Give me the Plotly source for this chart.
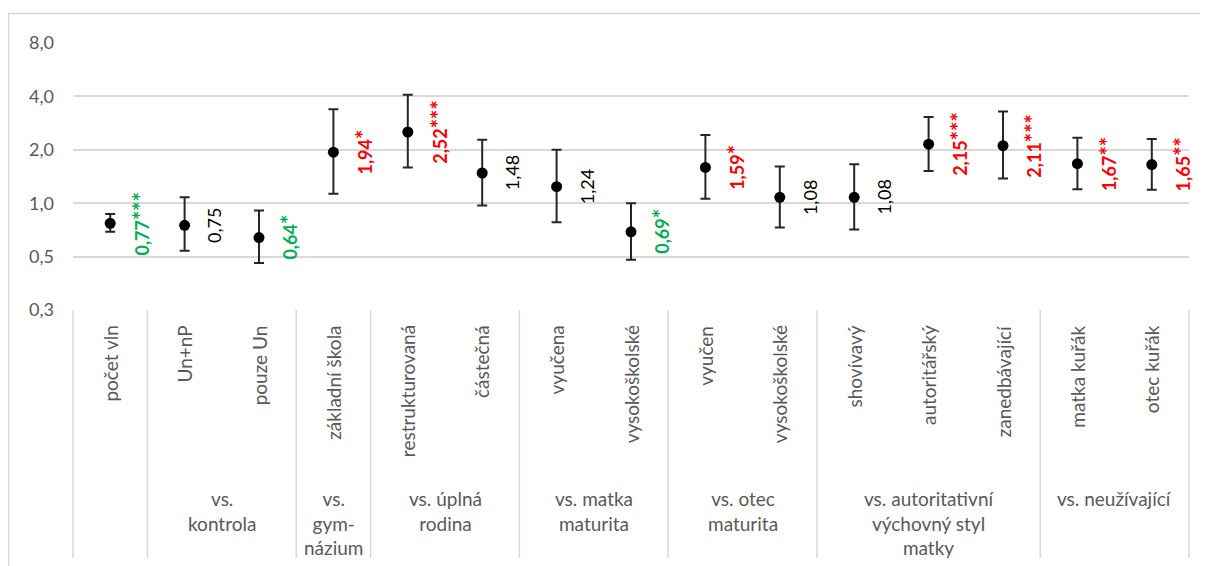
import numpy as np
import plotly.graph_objects as go

# ---- data ----
categories = ["počet vln", "Un+nP", "pouze Un", "základní škola", "restrukturovaná",
              "částečná", "vyučena", "vysokoškolské", "vyučen", "vysokoškolské",
              "shovívavý", "autoritářský", "zanedbávající", "matka kuřák", "otec kuřák"]
groups = ["", "vs.<br>kontrola", "vs.<br>gym-<br>názium", "vs. úplná<br>rodina",
          "vs. matka<br>maturita", "vs. otec<br>maturita",
          "vs. autoritativní<br>výchovný styl<br>matky", "vs. neužívající"]
group_sizes = [1, 2, 1, 2, 2, 2, 3, 2]
odds_ratio = [0.77, 0.75, 0.64, 1.94, 2.52, 1.48, 1.24, 0.69, 1.59, 1.08, 1.08, 2.15, 2.11, 1.67, 1.65]
ci_lower = [0.69, 0.54, 0.46, 1.13, 1.59, 0.97, 0.78, 0.48, 1.06, 0.73, 0.71, 1.52, 1.38, 1.20, 1.19]
ci_upper = [0.87, 1.08, 0.91, 3.38, 4.09, 2.28, 2.00, 1.00, 2.42, 1.61, 1.66, 3.06, 3.29, 2.34, 2.30]
stars = ["***", "", "*", "*", "***", "", "", "*", "*", "", "", "***", "***", "**", "**"]
y_tickvals = [0.25, 0.5, 1, 2, 4, 8]
y_ticktext = ["0,3", "0,5", "1,0", "2,0", "4,0", "8,0"]

FONT = "Lato, 'Open Sans', sans-serif"
GREY = "#595959"
LINE = "#d9d9d9"

x = list(range(len(categories)))
fig = go.Figure()
fig.add_trace(go.Scatter(
    x=x, y=odds_ratio, mode="markers",
    marker=dict(color="#000000", size=11),
    error_y=dict(type="data", symmetric=False,
                 array=[u - v for u, v in zip(ci_upper, odds_ratio)],
                 arrayminus=[v - l for v, l in zip(odds_ratio, ci_lower)],
                 color="#262626", thickness=2, width=5),
    showlegend=False, hoverinfo="skip"))

# value labels
for i, (v, s) in enumerate(zip(odds_ratio, stars)):
    num = f"{v:.2f}".replace(".", ",")
    if s:
        color = "#00B050" if v < 1 else "#FF0000"
        txt = f"<b>{num}<span style='font-size:22px'>{s}</span></b>"
    else:
        color = "#000000"
        txt = num
    fig.add_annotation(x=i, y=np.log10(v), xref="x", yref="y", text=txt,
                       textangle=-90, showarrow=False, xshift=30,
                       xanchor="center", yanchor="middle",
                       font=dict(family=FONT, size=18, color=color))

# category labels
for i, c in enumerate(categories):
    fig.add_annotation(x=i, y=-0.05, xref="x", yref="paper", text=c,
                       textangle=-90, showarrow=False, xanchor="center", yanchor="top",
                       font=dict(family=FONT, size=19, color=GREY))

# group labels and dividers
n = len(categories)
start = 0
bounds = [0]
for g, sz in zip(groups, group_sizes):
    center = start + (sz - 1) / 2
    if g:
        fig.add_annotation(x=center, y=-0.655, xref="x", yref="paper", text=g,
                           showarrow=False, xanchor="center", yanchor="top",
                           font=dict(family=FONT, size=19, color=GREY))
    start += sz
    bounds.append(start)
for b in bounds:
    fig.add_shape(type="line", xref="x domain", yref="paper",
                  x0=b / n, x1=b / n, y0=0, y1=-0.929,
                  line=dict(color=LINE, width=1.5))

# chart border
fig.add_shape(type="rect", xref="paper", yref="paper",
              x0=-0.0578, x1=1.0166, y0=1.1105, y1=-0.99,
              line=dict(color=LINE, width=1.5), fillcolor="rgba(0,0,0,0)")

fig.update_xaxes(range=[-0.5, n - 0.5], showticklabels=False, showgrid=False,
                 zeroline=False, showline=False, fixedrange=True)
fig.update_yaxes(type="log", range=[np.log10(0.25), np.log10(8)],
                 tickvals=y_tickvals, ticktext=y_ticktext,
                 gridcolor=LINE, gridwidth=1.5, zeroline=False, showline=False,
                 ticks="", ticklabelstandoff=18,
                 tickfont=dict(family=FONT, size=18, color=GREY))
fig.update_layout(width=1200, height=558,
                  margin=dict(l=65, r=19, t=35, b=256),
                  plot_bgcolor="white", paper_bgcolor="white",
                  font=dict(family=FONT))
fig.write_html("out.html")
